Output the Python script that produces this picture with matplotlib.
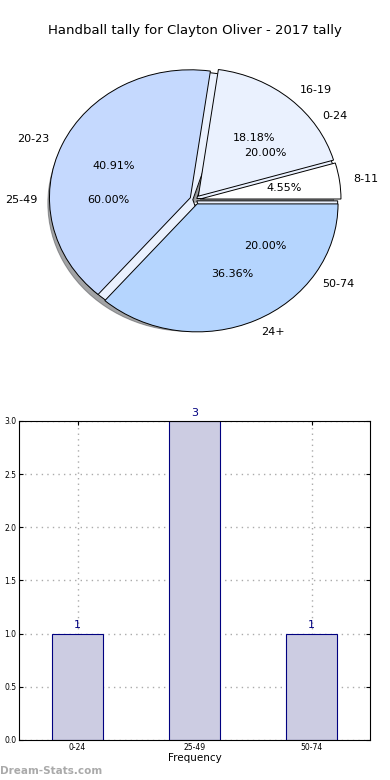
import matplotlib
matplotlib.use("Agg")
import matplotlib.pyplot as plt

# Pie data (two overlaid breakdowns)
age_labels = ["8-11", "16-19", "20-23", "24+"]
age_counts = [1, 4, 9, 8]
age_colors = ["#ffffff", "#eaf1fe", "#c5d9fe", "#b5d5fe"]

band_labels = ["0-24", "25-49", "50-74"]
band_counts = [1, 3, 1]
band_colors = ["#eaf1fe", "#eaf1fe", "#eaf1fe"]

# Bar data
bar_labels = ["0-24", "25-49", "50-74"]
bar_values = [1, 3, 1]

fig = plt.figure(figsize=(3.9, 7.8), dpi=100)
fig.text(0.5, 0.961, "Handball tally for Clayton Oliver - 2017 tally", ha="center", va="center", fontsize=9.5)

# Pie chart
ax1 = fig.add_axes([0.032, 0.5315, 0.936, 0.425])
r = 0.965
ax1.pie(band_counts, labels=band_labels, colors=band_colors, autopct="%1.2f%%", radius=r,
        shadow=True, explode=[0.015] * 3, textprops={"fontsize": 8},
        wedgeprops={"edgecolor": "black", "linewidth": 0.7})
ax1.pie(age_counts, labels=age_labels, colors=age_colors, autopct="%1.2f%%", radius=r,
        explode=[0.035] * 4, textprops={"fontsize": 8},
        wedgeprops={"edgecolor": "black", "linewidth": 0.7})
ax1.set_aspect("auto")
ax1.set_xlim(-1.25, 1.25)
ax1.set_ylim(-1.25, 1.25)

# Bar chart
ax2 = fig.add_axes([0.049, 0.0513, 0.9, 0.409])
x = range(len(bar_values))
bars = ax2.bar(x, bar_values, width=0.44, color="#ccccE2", edgecolor="#000080", linewidth=0.8, zorder=2)
for bar, v in zip(bars, bar_values):
    ax2.text(bar.get_x() + bar.get_width() / 2, v + 0.03, f"{v}", ha="center", va="bottom",
             color="#000080", fontsize=8)
ax2.set_xlim(-0.5, 2.5)
ax2.set_ylim(0, 3.0)
ax2.set_xticks(list(x))
ax2.set_xticklabels(bar_labels)
ax2.set_yticks([0.0, 0.5, 1.0, 1.5, 2.0, 2.5, 3.0])
ax2.set_yticklabels(["0.0", "0.5", "1.0", "1.5", "2.0", "2.5", "3.0"])
ax2.tick_params(labelsize=5.5, direction="in", top=True, right=True, length=3, pad=2)
ax2.grid(True, linestyle=(0, (1, 3)), color="#aaaaaa", linewidth=1, zorder=0)
ax2.set_xlabel("Frequency", fontsize=7.5, labelpad=1)

fig.text(0.0, 0.012, "Dream-Stats.com", color="#aaaaaa", fontsize=7.5, fontweight="bold", ha="left", va="center")

fig.savefig("out.png", dpi=100)
